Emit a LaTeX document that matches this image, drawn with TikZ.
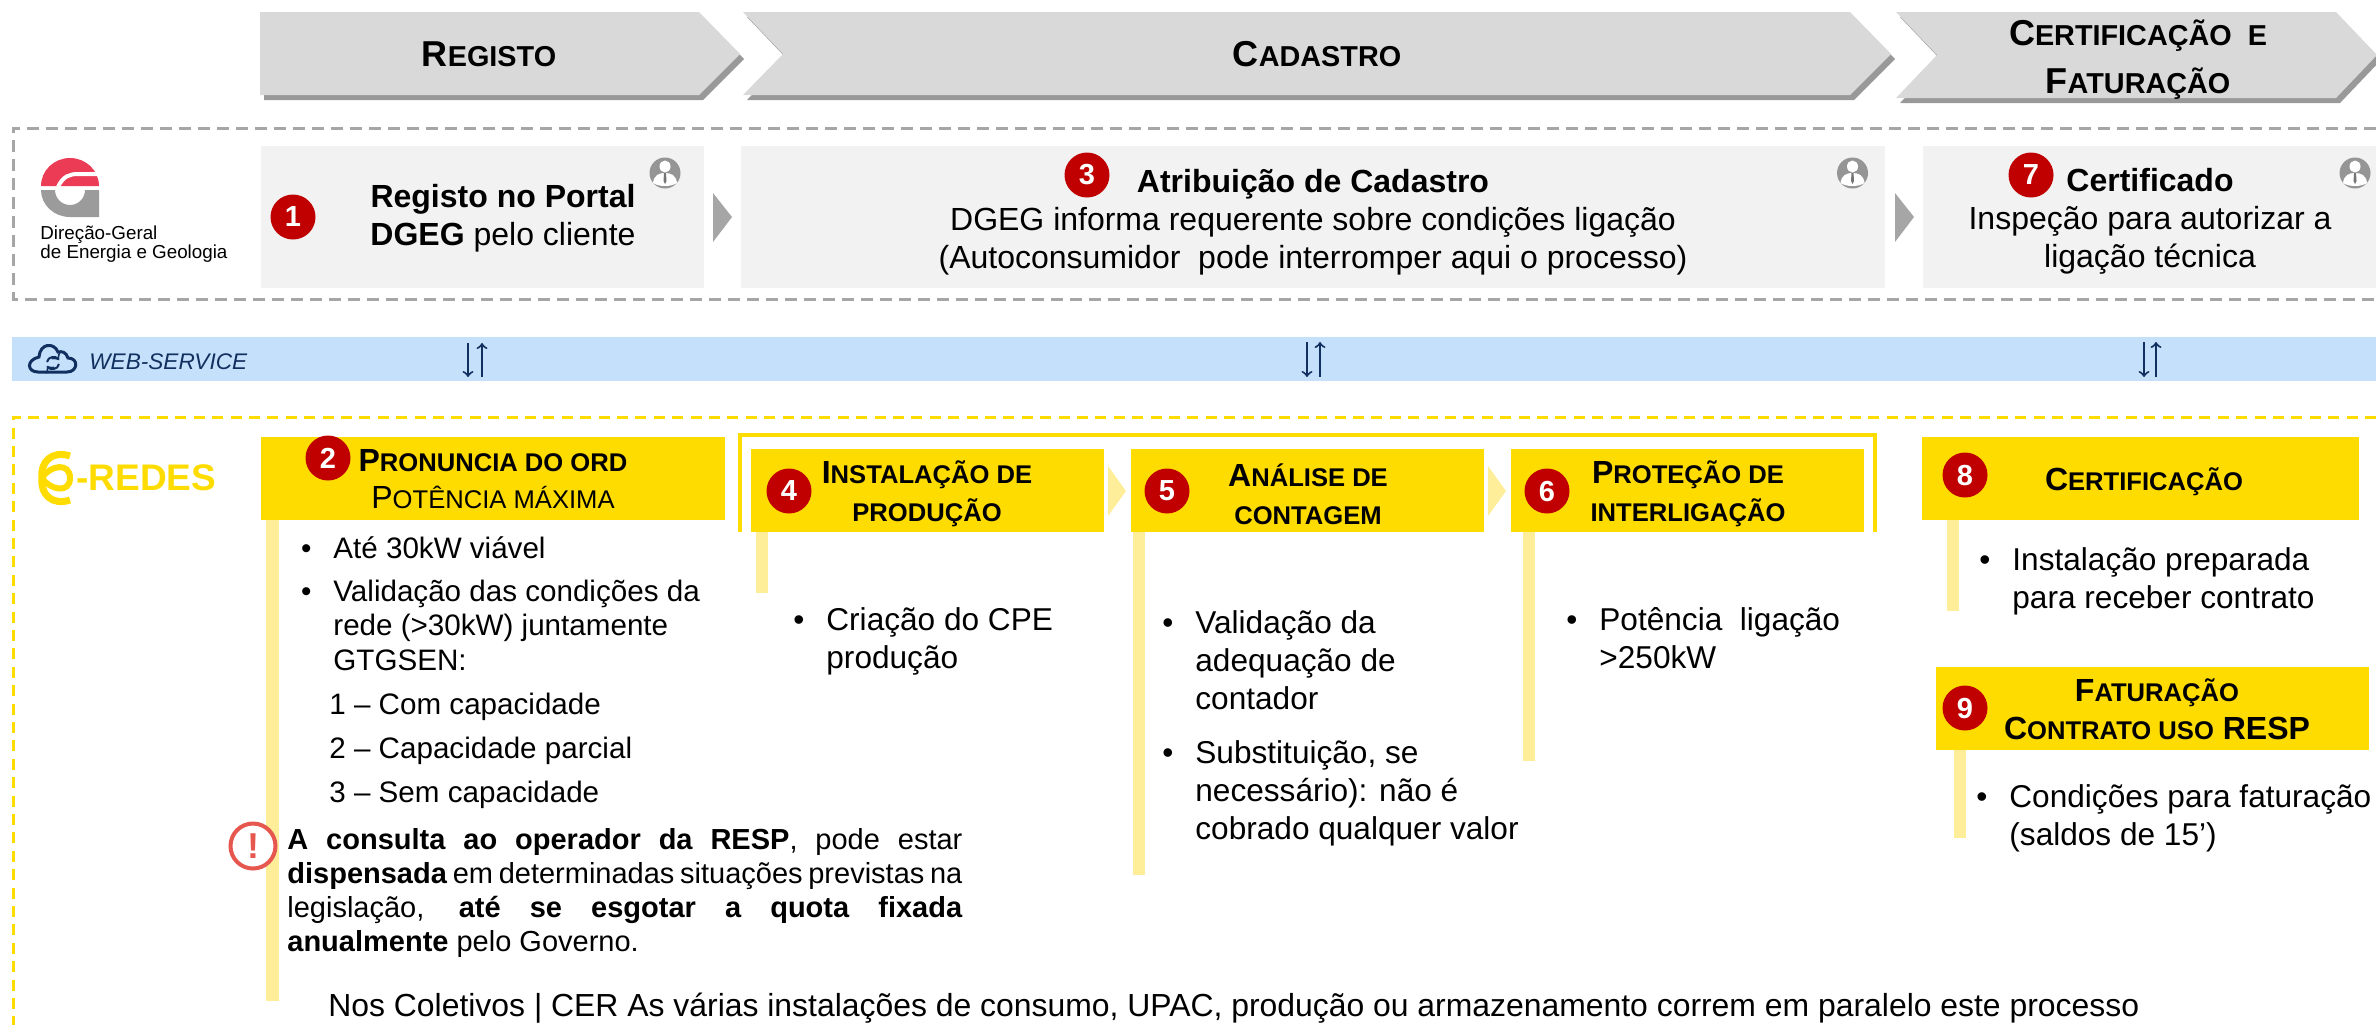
\documentclass[tikz,border=0pt]{standalone}
\usepackage{fontspec}
\setmainfont{Liberation Sans}
\usetikzlibrary{fit,shadows}

\definecolor{chevgray}{HTML}{D9D9D9}
\definecolor{panelgray}{HTML}{F2F2F2}
\definecolor{dashgray}{HTML}{A6A6A6}
\definecolor{bandblue}{HTML}{C5E0FB}
\definecolor{navy}{HTML}{12305F}
\definecolor{edpyellow}{HTML}{FFDC00}
\definecolor{paleyellow}{HTML}{FFEE99}
\definecolor{stepred}{HTML}{C00000}
\definecolor{warnred}{HTML}{E5574F}
\definecolor{logored}{HTML}{EC3B54}
\definecolor{logogray}{HTML}{9B9B9B}

\newcommand{\scapT}[2]{{\fontsize{18}{22}\selectfont #1}{\fontsize{14.4}{22}\selectfont #2}}
\newcommand{\scapH}[2]{{\fontsize{16}{19}\selectfont #1}{\fontsize{12.8}{19}\selectfont #2}}
\newcommand{\bull}{\llap{\textbullet\hspace{11pt}}}

\tikzset{
  personicon/.pic={
    \fill[dashgray!90!black] (0,0) circle (15.5);
    \fill[white] (0,-6.5) ellipse (5.5 and 6);
    \fill[white] (-12,10) .. controls (-11,2) and (-6,0) .. (0,0) .. controls (6,0) and (11,2) .. (12,10) .. controls (6,14) and (-6,14) .. (-12,10);
    \fill[dashgray!70!black] (-1,0) -- (1,0) -- (1.5,8) -- (0,11) -- (-1.5,8) -- cycle;
  }
}

\begin{document}
\begin{tikzpicture}[x=0.5pt,y=-0.5pt,>=to,
    panel/.style={fill=panelgray,inner sep=0pt},
    hdrbox/.style={fill=edpyellow,inner sep=0pt},
    chev/.style={fill=chevgray,drop shadow={shadow xshift=2pt,shadow yshift=-2.5pt,fill=black,opacity=.4}},
    stepnum/.style={circle,fill=stepred,text=white,minimum size=22.5pt,inner sep=0pt,font=\fontsize{14.5}{16}\selectfont\bfseries},
    toptext/.style={align=center,font=\fontsize{18}{22}\selectfont\bfseries},
    hdrtext/.style={align=center,inner sep=0pt,font=\fontsize{16}{19}\selectfont\bfseries},
    bodytext/.style={align=left,anchor=west,inner sep=0pt,font=\fontsize{15.8}{19}\selectfont},
    paneltext/.style={align=center,inner sep=0pt,font=\fontsize{16}{19}\selectfont},
    listtext/.style={align=left,anchor=north west,inner sep=0pt,font=\fontsize{14.8}{17.4}\selectfont},
    ledbar/.style={fill=paleyellow},
    wsarrow/.style={navy,line width=1pt}]

\useasboundingbox (0,0) rectangle (2376,1025);

\fill[chev] (260,12) -- (699,12) -- (740,54) -- (699,95) -- (260,95) -- cycle;
\fill[chev] (743,12) -- (1850,12) -- (1891,54) -- (1850,95) -- (743,95) -- (783,54) -- cycle;
\fill[chev] (1896,12) -- (2336,12) -- (2377,55) -- (2336,98) -- (1896,98) -- (1937,55) -- cycle;
\node[toptext] (R) at (489,54) {\scapT{R}{EGISTO}};
\node[toptext] (C) at (1317,54) {\scapT{C}{ADASTRO}};
\node[toptext] (F) at (2138,60) {\scapT{C}{ERTIFICAÇÃO\ \ E}\\[2pt]\scapT{F}{ATURAÇÃO}};

\draw[dashgray,line width=1.5pt,dash pattern=on 6pt off 3.5pt] (2376,128) -- (13,128) -- (13,299) -- (2376,299);

\node[panel,fit={(261,146) (704,288)}] (PA) {};
\node[panel,fit={(741,146) (1885,288)}] (PB) {};
\node[panel,fit={(1923,146) (2376,288)}] (PC) {};
\fill[dashgray] (713,193) -- (732,217) -- (713,242) -- cycle;
\fill[dashgray] (1895,193) -- (1914,217) -- (1895,242) -- cycle;

\node[stepnum] (N1) at (293,217) {1};
\node[paneltext] (TA) at (503,218) {\textbf{Registo no Portal}\\[0pt]\textbf{DGEG} pelo cliente};
\node[stepnum] (N3) at (1087,175) {3};
\node[paneltext] (TB) at (1313,222) {\textbf{Atribuição de Cadastro}\\DGEG informa requerente sobre condições ligação\\(Autoconsumidor\ \ pode interromper aqui o processo)};
\node[stepnum] (N7) at (2031,175) {7};
\node[paneltext] (TC) at (2150,221) {\textbf{Certificado}\\Inspeção para autorizar a\\ligação técnica};
\pic at (665,173) {personicon};
\pic at (1852.5,173) {personicon};
\pic at (2355,173) {personicon};

% logos
\fill[logored] (41,186) arc (180:360:29 and 28) -- cycle;
\draw[white,line width=2pt] (58,187) .. controls (63,176) and (70,174) .. (78,174) -- (100,174);
\fill[logogray] (41,190) arc (180:90:29 and 27) -- (99,217) -- (99,190) -- (85,190) arc (0:180:15 and 15) -- cycle;
\node[align=left,anchor=west,inner sep=0pt,font=\fontsize{9.4}{9.6}\selectfont] (DG) at (40,244) {Direção-Geral\\de Energia e Geologia};
\draw[edpyellow,line width=3.5pt] (70,456) .. controls (52,450) and (40,462) .. (42,478) .. controls (40,494) and (52,506) .. (70,500);
\draw[edpyellow,line width=3pt] (42,478) .. controls (50,465) and (70,462) .. (70,478) .. controls (70,494) and (50,490) .. (42,478);
\node[anchor=west,inner sep=0pt,text=edpyellow,font=\fontsize{18.5}{20}\selectfont\bfseries] (ER) at (76,478) {-REDES};

\fill[bandblue] (12,337) rectangle (2376,381);
\draw[navy,line width=1.5pt] (38,372) -- (67,372) .. controls (78,372) and (79,358) .. (68,358) .. controls (66,352) and (62,351) .. (58,352) .. controls (54,342) and (40,343) .. (39,357) .. controls (26,360) and (27,372) .. (38,372) -- cycle;
\draw[navy,line width=1pt,->] (47,362) .. controls (48,356) and (56,356) .. (59,360);
\draw[navy,line width=1pt,->] (59,364) .. controls (58,370) and (50,370) .. (47,366);
\node[anchor=west,inner sep=0pt,text=navy,font=\fontsize{11.3}{13}\selectfont\itshape] (WS) at (89,362) {WEB-SERVICE};

\coordinate (AT) at (468,343); \coordinate (AB) at (468,377);
\coordinate (BT) at (482,343); \coordinate (BB) at (482,377);
\coordinate (CT) at (1307,342); \coordinate (CB) at (1307,377);
\coordinate (DT) at (1320,342); \coordinate (DB) at (1320,377);
\coordinate (ET) at (2144,342); \coordinate (EB) at (2144,377);
\coordinate (GT) at (2156,342); \coordinate (GB) at (2156,377);
\path[->,wsarrow] (AT) edge (AB)
                  (BB) edge (BT)
                  (CT) edge (CB)
                  (DB) edge (DT)
                  (ET) edge (EB)
                  (GB) edge (GT);

\draw[edpyellow,line width=1.5pt,dash pattern=on 5.5pt off 3.7pt] (2376,417) -- (13,417) -- (13,1025);
\draw[edpyellow,line width=1.8pt] (740,532) -- (740,435) -- (1875,435) -- (1875,532);

\begin{scope}[every node/.style={hdrbox}]
  \node[fit={(261,437) (725,520)}] (H2) {};
  \node[fit={(751,449) (1103.5,532)}] (H4) {};
  \node[fit={(1131,449) (1483.5,532)}] (H5) {};
  \node[fit={(1511,449) (1864,532)}] (H6) {};
  \node[fit={(1922,437) (2359,520)}] (H8) {};
  \node[fit={(1936,667) (2369,750)}] (H9) {};
\end{scope}
\fill[paleyellow] (1108,466) -- (1126,491) -- (1108,516) -- cycle;
\fill[paleyellow] (1488,466) -- (1506,491) -- (1488,516) -- cycle;

\fill[ledbar] (266,520) rectangle (279,1001);
\fill[ledbar] (756,532) rectangle (768,593);
\fill[ledbar] (1133,532) rectangle (1145,875);
\fill[ledbar] (1523,532) rectangle (1535,761);
\fill[ledbar] (1947,520) rectangle (1959,611);
\fill[ledbar] (1954,750) rectangle (1966,838);

\node[stepnum] (N2) at (328,458) {2};
\node[stepnum] (N4) at (789,491) {4};
\node[stepnum] (N5) at (1167,491) {5};
\node[stepnum] (N6) at (1547,491) {6};
\node[stepnum] (N8) at (1965,475) {8};
\node[stepnum] (N9) at (1965,708) {9};

\node[hdrtext] (T2) at (493,479) {\scapH{P}{RONUNCIA DO ORD}\\[-0.5pt]\textmd{\scapH{P}{OTÊNCIA MÁXIMA}}};
\node[hdrtext] (T4) at (927,494) {\scapH{I}{NSTALAÇÃO DE}\\\scapH{}{PRODUÇÃO}};
\node[hdrtext] (T5) at (1308,494) {\scapH{A}{NÁLISE DE}\\\scapH{}{CONTAGEM}};
\node[hdrtext] (T6) at (1688,494) {\scapH{P}{ROTEÇÃO DE}\\\scapH{}{INTERLIGAÇÃO}};
\node[hdrtext] (T8) at (2144,482) {\scapH{C}{ERTIFICAÇÃO}};
\node[hdrtext] (T9) at (2157,709) {\scapH{F}{ATURAÇÃO}\\\scapH{C}{ONTRATO USO} RESP};

\node[listtext] (L2) at (333,536) {\bull Até 30kW viável\\[4pt]\bull Validação das condições da\\rede (>30kW) juntamente\\GTGSEN:\\[4.5pt]\hspace*{-2pt}1 – Com capacidade\\[4.5pt]\hspace*{-2pt}2 – Capacidade parcial\\[4.5pt]\hspace*{-2pt}3 – Sem capacidade};
\node[stepnum,draw=warnred,fill=white,text=warnred,line width=2pt,minimum size=22.5pt,font=\fontsize{18}{20}\selectfont\bfseries] (W) at (253,846) {!};
\node[anchor=north west,inner sep=0pt,text width=337.5pt,align=justify,font=\fontsize{14.5}{17}\selectfont] (NT) at (287,828) {\textbf{A consulta ao operador da RESP}, pode estar\linebreak \textbf{dispensada} em determinadas situações previstas na\linebreak legislação, \textbf{até se esgotar a quota fixada}\linebreak \textbf{anualmente} pelo Governo.};

\node[bodytext] (L4) at (826,641) {\bull Criação do CPE\\produção};
\node[bodytext] (L5) at (1195,728) {\bull Validação da\\adequação de\\contador\\[8pt]\bull Substituição, se\\necessário): não é\\cobrado qualquer valor};
\node[bodytext] (L6) at (1599,638) {\bull Potência\ \ ligação\\>250kW};
\node[bodytext] (L8) at (2012,581) {\bull Instalação preparada\\para receber contrato};
\node[bodytext] (L9) at (2009,818) {\bull Condições para faturação\\(saldos de 15’)};

\node[anchor=west,inner sep=0pt,font=\fontsize{15.95}{19}\selectfont] (CO) at (328,1008) {Nos Coletivos | CER As várias instalações de consumo, UPAC, produção ou armazenamento correm em paralelo este processo};

\end{tikzpicture}
\end{document}
